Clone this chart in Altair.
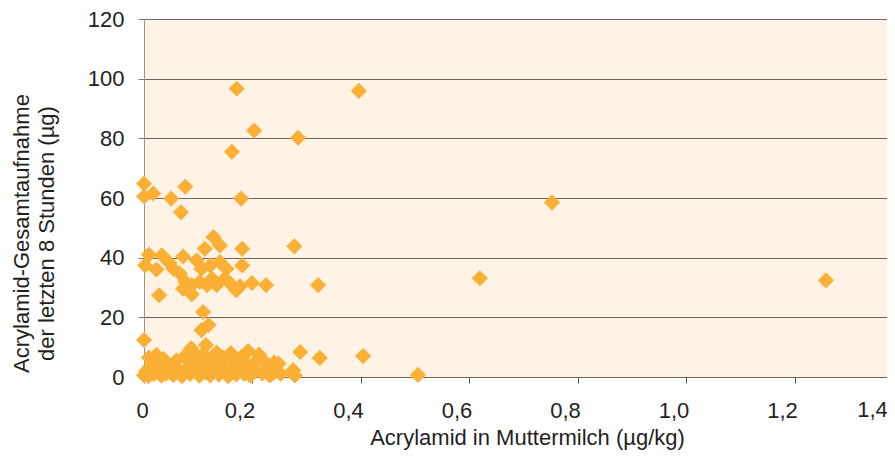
import altair as alt
import pandas as pd

# Acrylamid in Muttermilch (µg/kg)
x_vals = [
    0.171, 0.396, 0.203, 0.284, 0.162, 0.000, 0.076, 0.000, 0.017, 0.050,
    0.179, 0.068, 0.752, 0.277, 0.619, 1.257, 0.321, 0.404, 0.288, 0.324,
    0.505,
    0.128, 0.140, 0.112, 0.181, 0.009, 0.033, 0.072, 0.002, 0.023, 0.047,
    0.054, 0.066, 0.097, 0.106, 0.122, 0.140, 0.152, 0.181, 0.076, 0.088,
    0.072, 0.088, 0.103, 0.116, 0.125, 0.134, 0.149, 0.159, 0.170, 0.177,
    0.199, 0.225, 0.028, 0.109, 0.106, 0.119, 0.000, 0.114, 0.192,
    0.000, 0.004, 0.008, 0.012, 0.018, 0.022, 0.028, 0.032, 0.036, 0.042,
    0.048, 0.054, 0.060, 0.064, 0.070, 0.074, 0.080, 0.085, 0.090, 0.094,
    0.098, 0.102, 0.106, 0.110, 0.114, 0.118, 0.122, 0.126, 0.130, 0.134,
    0.138, 0.142, 0.146, 0.150, 0.155, 0.160, 0.165, 0.170, 0.175, 0.180,
    0.185, 0.190, 0.196, 0.200, 0.205, 0.212, 0.218, 0.226, 0.232, 0.240,
    0.248, 0.252, 0.275, 0.278, 0.238, 0.219, 0.201, 0.186, 0.023, 0.087,
    0.164, 0.183, 0.160, 0.015, 0.045, 0.058, 0.136, 0.158, 0.009, 0.040,
]

# Acrylamid-Gesamtaufnahme der letzten 8 Stunden (µg)
y_vals = [
    96.6, 95.9, 82.6, 80.2, 75.5, 64.8, 63.8, 60.5, 61.5, 59.8,
    59.8, 55.2, 58.5, 43.8, 33.1, 32.4, 30.8, 7.0, 8.4, 6.4,
    0.7,
    46.9, 44.1, 43.0, 43.0, 41.0, 40.8, 40.4, 37.4, 36.0, 38.2,
    36.3, 34.7, 39.1, 36.3, 37.4, 38.5, 36.3, 37.4, 31.9, 30.8,
    29.6, 27.7, 31.9, 30.8, 33.0, 30.8, 33.0, 31.3, 29.1, 30.4,
    31.5, 30.8, 27.4, 21.8, 15.7, 17.4, 12.4, 10.7, 8.7,
    0.5, 2.0, 0.3, 3.5, 1.0, 5.0, 2.5, 0.4, 6.0, 1.5,
    3.8, 0.6, 5.5, 2.2, 0.3, 6.8, 3.0, 1.0, 5.2, 7.5,
    2.0, 0.4, 4.5, 7.8, 1.5, 3.5, 0.5, 6.0, 2.8, 8.2,
    0.8, 4.0, 6.5, 1.8, 0.3, 3.2, 5.5, 0.9, 2.5, 6.8,
    1.0, 4.2, 0.4, 2.0, 5.0, 7.5, 1.2, 3.2, 0.5, 4.8,
    4.5, 1.0, 2.3, 0.5, 1.3, 5.7, 2.3, 5.1, 7.4, 9.6,
    6.8, 4.6, 8.0, 4.0, 2.5, 3.0, 1.5, 0.8, 6.5, 1.0,
]

x_ticks = [0, 0.2, 0.4, 0.6, 0.8, 1.0, 1.2]
extra_x_label = ["1,4"]
extra_x_pos = [1.4]
y_ticks = [0, 20, 40, 60, 80, 100, 120]

df = pd.DataFrame({"x": x_vals, "y": y_vals})
df_lbl = pd.DataFrame({"x": extra_x_pos, "t": extra_x_label})

FONT = "Liberation Sans"
TXT = "#231f20"
PLOT_H = 358

xscale = alt.Scale(domain=[0, 1.3696], nice=False, zero=False)
yscale = alt.Scale(domain=[0, 120], nice=False)

points = alt.Chart(df).mark_point(
    shape="diamond", filled=True, size=260, color="#FBAF35", opacity=1
).encode(
    x=alt.X("x:Q", scale=xscale, axis=alt.Axis(
        values=x_ticks,
        title="Acrylamid in Muttermilch (µg/kg)",
        titleX=383, titleY=67, titleBaseline="alphabetic",
        titleFont=FONT, titleFontSize=22, titleFontWeight="normal", titleColor=TXT,
        labelFont=FONT, labelFontSize=22, labelColor=TXT,
        labelExpr="datum.value == 0 ? '0' : replace(format(datum.value, '.1f'), '.', ',')",
        labelOffset={"condition": {"test": "datum.value == 0", "value": -2}, "value": -13},
        labelPadding=17, labelFlush=False, labelOverlap=False,
        grid=False, domain=False, ticks=True, tickSize=6, tickColor="#555555",
    )),
    y=alt.Y("y:Q", scale=yscale, axis=alt.Axis(
        values=y_ticks,
        title=["Acrylamid-Gesamtaufnahme", "der letzten 8 Stunden (µg)"],
        titleX=-123, titleY=214, titleAngle=270, titleBaseline="middle", titleAlign="center",
        titleLineHeight=25,
        titleFont=FONT, titleFontSize=22, titleFontWeight="normal", titleColor=TXT,
        labelFont=FONT, labelFontSize=22, labelColor=TXT, labelPadding=14,
        grid=True, gridColor="#6d645c", gridWidth=1,
        domain=True, domainColor="#9a9590", ticks=True, tickSize=6, tickColor="#777777",
    )),
)

extra = alt.Chart(df_lbl).mark_text(
    font=FONT, fontSize=22, color=TXT, baseline="top", align="center", dx=-31
).encode(
    x=alt.X("x:Q", scale=xscale),
    y=alt.value(PLOT_H + 23),
    text="t:N",
)

chart = alt.layer(points, extra).properties(
    width=743, height=PLOT_H,
    autosize=alt.AutoSizeParams(type="none"),
    padding={"left": 136, "top": 11, "right": 0, "bottom": 74},
).configure_view(fill="#FEF3E4", stroke=None)

chart.save("out.html", embed_options={"renderer": "svg", "actions": False})
